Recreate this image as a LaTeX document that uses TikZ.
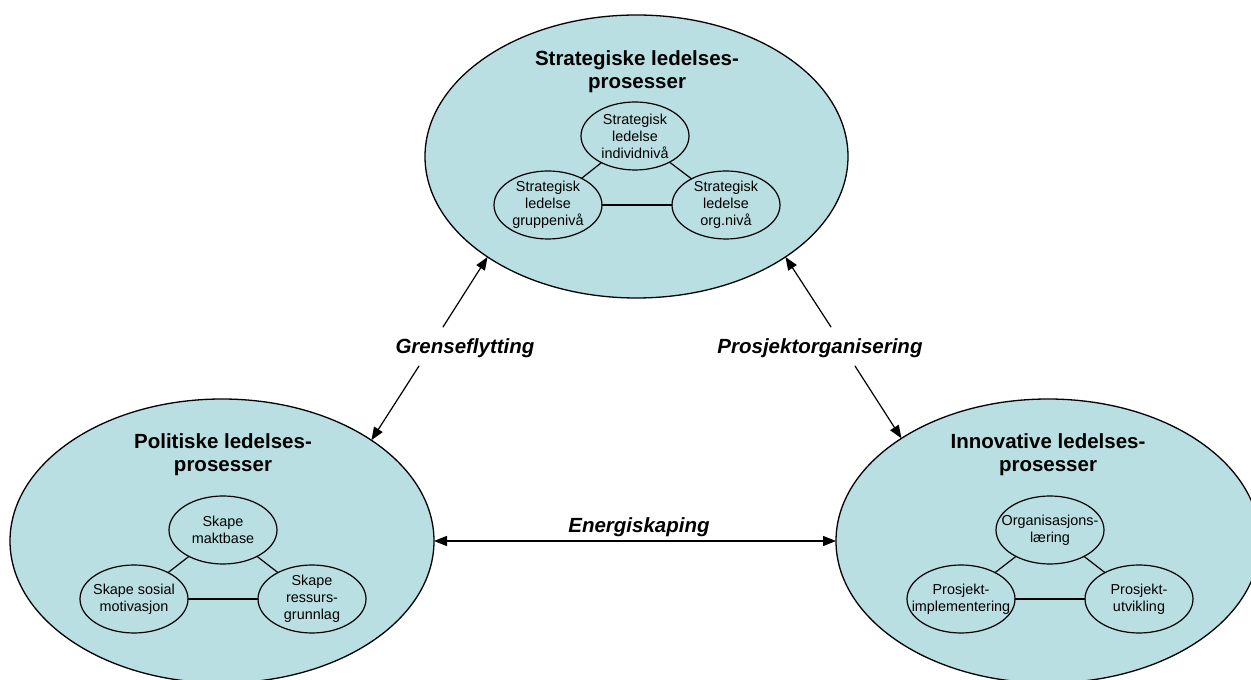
\documentclass[tikz,border=0pt]{standalone}
\usepackage{fontspec}
\setmainfont{Liberation Sans}
\usepackage{tikz}
\usetikzlibrary{arrows.meta,shapes.geometric}
\definecolor{paleblue}{RGB}{185,223,227}

\begin{document}
\begin{tikzpicture}[x=1pt,y=1pt,line cap=round,line join=round,
  bigell/.style={ellipse,draw,fill=paleblue,line width=1.3pt,inner sep=0pt,outer sep=0pt,minimum width=424pt,minimum height=284pt},
  smallell/.style={ellipse,draw,line width=1.2pt,inner sep=-20pt,outer sep=0pt,minimum width=108pt,minimum height=68pt,align=center,font=\fontsize{14.4}{17}\selectfont},
  titletext/.style={align=center,font=\fontsize{20.5}{23}\selectfont\bfseries},
  linktext/.style={font=\fontsize{20.5}{23}\selectfont\bfseries\itshape},
  link/.style={line width=1.2pt,-{Triangle[length=13pt,width=10pt]}},
  twolink/.style={line width=1.2pt,{Triangle[length=13pt,width=10pt]}-{Triangle[length=13pt,width=10pt]}},
  tie/.style={line width=1.2pt}]
\useasboundingbox (0,0) rectangle (1251,680);
\clip (0,0) rectangle (1251,680);
% the three main processes
\node[bigell,minimum width=423pt,minimum height=283pt] (strat) at (636.5,523.5) {};
\node[bigell] (polit) at (222,139) {};
\node[bigell] (innov) at (1048,139) {};
\node[titletext] (strattitle) at (637,608) {Strategiske ledelses-\\prosesser};
\node[titletext] (polittitle) at (223,225) {Politiske ledelses-\\prosesser};
\node[titletext] (innovtitle) at (1048,225) {Innovative ledelses-\\prosesser};
% strategic
\node[smallell] (sind) at (635,544) {Strategisk\\ledelse\\individnivå};
\node[smallell] (sgrp) at (548,475) {Strategisk\\ledelse\\gruppenivå};
\node[smallell] (sorg) at (726,475) {Strategisk\\ledelse\\org.nivå};
\draw[tie] (sind) -- (sgrp);
\draw[tie] (sind) -- (sorg);
\draw[tie] (sgrp) -- (sorg);
% political
\node[smallell] (pmakt) at (223,150) {Skape\\maktbase};
\node[smallell] (psos) at (134,81) {Skape sosial\\motivasjon};
\node[smallell] (pres) at (312,81) {Skape\\ressurs-\\grunnlag};
\draw[tie] (pmakt) -- (psos);
\draw[tie] (pmakt) -- (pres);
\draw[tie] (psos) -- (pres);
% innovative
\node[smallell] (iorg) at (1050,150) {Organisasjons-\\læring};
\node[smallell] (iimp) at (961,81) {Prosjekt-\\implementering};
\node[smallell] (iutv) at (1139,81) {Prosjekt-\\utvikling};
\draw[tie] (iorg) -- (iimp);
\draw[tie] (iorg) -- (iutv);
\draw[tie] (iimp) -- (iutv);
% links between the processes
\node[linktext] (grense) at (465,332) {Grenseflytting};
\node[linktext] (prosj) at (820,332) {Prosjektorganisering};
\node[linktext] (energi) at (639,153) {Energiskaping};
\coordinate (g1) at (443,353);
\coordinate (g2) at (419,314);
\coordinate (p1) at (831,353);
\coordinate (p2) at (855,314);
\draw[link] (g1) -- (strat.214);
\draw[link] (g2) -- (polit.34);
\draw[link] (p1) -- (strat.326);
\draw[link] (p2) -- (innov.145);
\draw[twolink] (polit) -- (innov);
\end{tikzpicture}
\end{document}
